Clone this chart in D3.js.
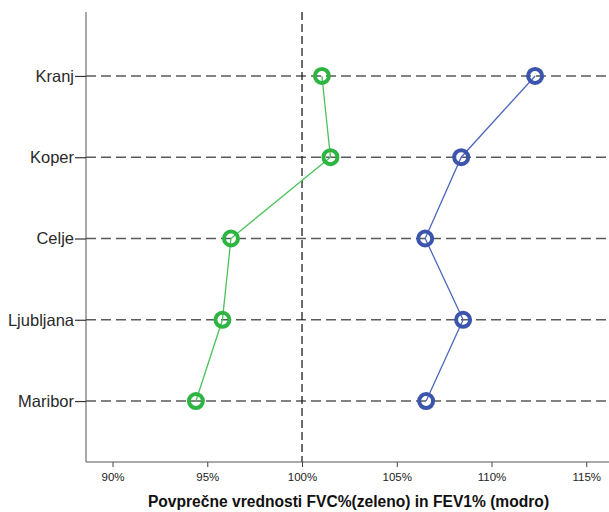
<!DOCTYPE html>
<html>
<head>
<meta charset="utf-8">
<script src="https://cdn.jsdelivr.net/npm/d3@7"></script>
<style>
  body { margin: 0; background: #fff; }
  text { font-family: Arial, "Liberation Sans", sans-serif; }
</style>
</head>
<body>
<div id="chart"></div>
<script>
// mesta in povprecne vrednosti
const cities = ['Kranj', 'Koper', 'Celje', 'Ljubljana', 'Maribor']
const fvc = [101.05, 101.5, 96.25, 95.8, 94.4]     // zeleno
const fev1 = [112.3, 108.4, 106.5, 108.5, 106.55]  // modro
const ticks = [90, 95, 100, 105, 110, 115]

const width = 609
const height = 512
const plotL = 86, plotR = 609, plotT = 12, plotB = 462

const svg = d3.select('#chart').append('svg')
    .attr('width', width)
    .attr('height', height)

const x = d3.scaleLinear()
    .domain([88.6, 116.2])
    .range([plotL, plotR])

const y = d3.scalePoint()
    .domain(cities)
    .range([plotT + 3, plotB])
    .padding(0.75)

// horizontal dashed lines for each city
svg.append('g').selectAll('line')
    .data(cities)
    .enter()
    .append('line')
    .attr('x1', plotL)
    .attr('x2', plotR)
    .attr('y1', d => y(d))
    .attr('y2', d => y(d))
    .attr('stroke', '#5a5a5a')
    .attr('stroke-width', 1.5)
    .attr('stroke-dasharray', '10,5')

// reference line at 100%
svg.append('line')
    .attr('x1', x(100))
    .attr('x2', x(100))
    .attr('y1', plotT)
    .attr('y2', plotB)
    .attr('stroke', '#111')
    .attr('stroke-width', 1.2)
    .attr('stroke-dasharray', '8,4')

// y axis
const yAxis = svg.append('g')
    .attr('transform', `translate(${plotL},0)`)
    .call(d3.axisLeft(y).tickSize(11).tickPadding(1))
yAxis.select('.domain').attr('stroke', '#555').attr('d', `M0,${plotT}V${plotB}`)
yAxis.selectAll('.tick line').attr('stroke', '#333').attr('stroke-width', 1.2)
yAxis.selectAll('.tick text')
    .attr('font-size', 16.5)
    .attr('fill', '#2a2a2a')
    .attr('font-family', 'Arial, "Liberation Sans", sans-serif')

// x axis
const xAxis = svg.append('g')
    .attr('transform', `translate(0,${plotB})`)
    .call(d3.axisBottom(x).tickValues(ticks).tickFormat(d => d + '%').tickSize(5).tickPadding(6))
xAxis.select('.domain').attr('stroke', '#555').attr('d', `M${plotL},0H${plotR}`)
xAxis.selectAll('.tick line').attr('stroke', '#444')
xAxis.selectAll('.tick text')
    .attr('font-size', 11.5)
    .attr('fill', '#222')
    .attr('font-family', 'Arial, "Liberation Sans", sans-serif')

svg.append('text')
    .attr('x', (plotL + plotR) / 2 + 1)
    .attr('y', 507)
    .attr('text-anchor', 'middle')
    .attr('font-size', 15.6)
    .attr('font-weight', 'bold')
    .attr('fill', '#111')
    .text('Povprečne vrednosti FVC%(zeleno) in FEV1% (modro)')

// series lines + markers
const series = [
    { values: fvc, line: '#4cc25a', mark: '#2eb541' },
    { values: fev1, line: '#4e68bd', mark: '#3b54ac' }
]

const line = d3.line()
    .x(d => x(d.v))
    .y(d => y(d.c))

series.forEach(s => {
    const pts = cities.map((c, i) => ({ c: c, v: s.values[i] }))
    svg.append('path')
        .datum(pts)
        .attr('d', line)
        .attr('fill', 'none')
        .attr('stroke', s.line)
        .attr('stroke-width', 1.3)
    svg.append('g').selectAll('circle')
        .data(pts)
        .enter()
        .append('circle')
        .attr('cx', d => x(d.v))
        .attr('cy', d => y(d.c))
        .attr('r', 7)
        .attr('fill', 'none')
        .attr('stroke', s.mark)
        .attr('stroke-width', 4)
})
</script>
</body>
</html>
